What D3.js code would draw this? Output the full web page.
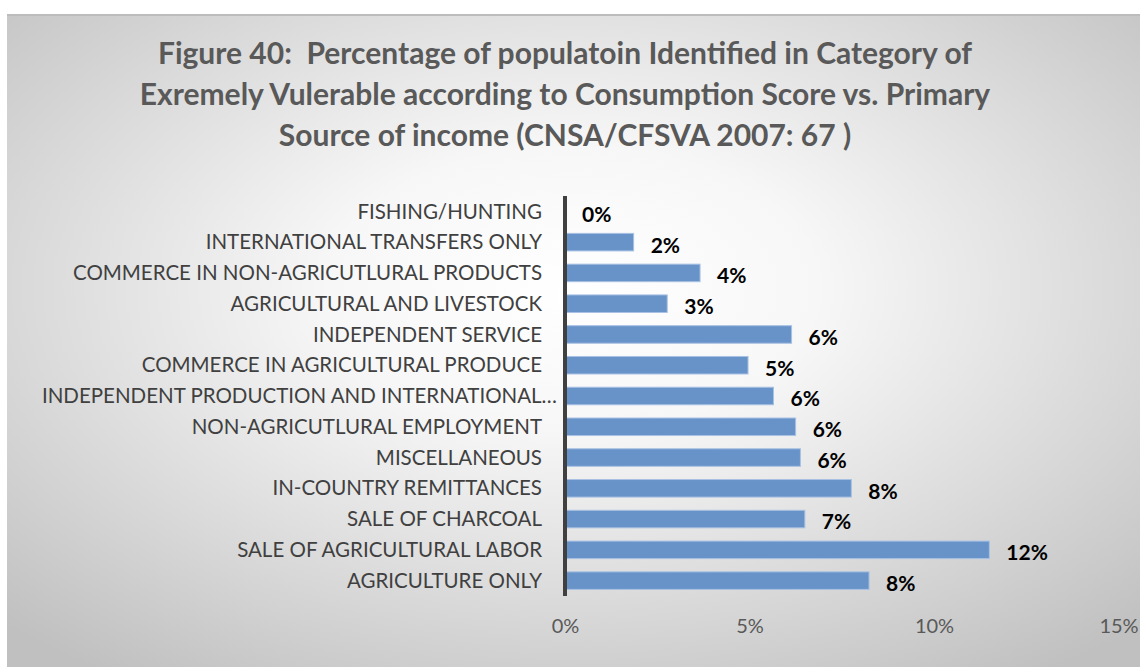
<!DOCTYPE html>
<html>
<head>
<meta charset="utf-8">
<script src="https://cdn.jsdelivr.net/npm/d3@7"></script>
<style>
  html, body { margin: 0; padding: 0; background: #ffffff; }
  svg { display: block; }
  text { font-family: Lato, "Open Sans", "DejaVu Sans", sans-serif; white-space: pre; }
</style>
</head>
<body>
<svg id="chart" width="1140" height="667"></svg>
<script>
// Primary source of income (top to bottom as displayed)
const categories = [
  "FISHING/HUNTING",
  "INTERNATIONAL TRANSFERS ONLY",
  "COMMERCE IN NON-AGRICUTLURAL PRODUCTS",
  "AGRICULTURAL AND LIVESTOCK",
  "INDEPENDENT SERVICE",
  "COMMERCE IN AGRICULTURAL PRODUCE",
  "INDEPENDENT PRODUCTION AND INTERNATIONAL…",
  "NON-AGRICUTLURAL EMPLOYMENT",
  "MISCELLANEOUS",
  "IN-COUNTRY REMITTANCES",
  "SALE OF CHARCOAL",
  "SALE OF AGRICULTURAL LABOR",
  "AGRICULTURE ONLY"
];

// Share of population classed as extremely vulnerable (%)
const percentages = [0, 1.86, 3.66, 2.77, 6.14, 4.96, 5.65, 6.25, 6.38, 7.76, 6.5, 11.5, 8.24];

const tickValues = [0, 5, 10, 15];

const titleLines = [
  "Figure 40:  Percentage of populatoin Identified in Category of",
  "Exremely Vulerable according to Consumption Score vs. Primary",
  "Source of income (CNSA/CFSVA 2007: 67 )"
];

const svg = d3.select("#chart");
const W = 1140, H = 667;

// Chart area background with a soft radial shading
const defs = svg.append("defs");
const grad = defs.append("radialGradient")
  .attr("id", "bg")
  .attr("cx", 0.5).attr("cy", 0.42).attr("r", 0.72)
  .attr("fx", 0.5).attr("fy", 0.42);
grad.append("stop").attr("offset", 0).attr("stop-color", "#ffffff");
grad.append("stop").attr("offset", 0.3).attr("stop-color", "#f7f7f7");
grad.append("stop").attr("offset", 1).attr("stop-color", "#c0c0c0");

svg.append("rect")
  .attr("x", 7).attr("y", 14)
  .attr("width", W - 7).attr("height", H - 14)
  .attr("fill", "url(#bg)");
svg.append("line")
  .attr("x1", 7).attr("x2", W)
  .attr("y1", 15).attr("y2", 15)
  .attr("stroke", "#bcbcbc").attr("stroke-width", 2);

// Title
svg.append("g")
  .selectAll("text")
  .data(titleLines)
  .join("text")
  .attr("x", 565)
  .attr("y", (d, i) => 64 + i * 41)
  .attr("text-anchor", "middle")
  .attr("font-size", 30)
  .attr("font-weight", "bold")
  .attr("fill", "#595959")
  .text(d => d);

// Scales
const x = d3.scaleLinear().domain([0, 15]).range([565, 1118.5]);
const y = d3.scaleBand().domain(categories).range([196, 596]).paddingInner(0.43).paddingOuter(0.215);

// Bars
svg.append("g")
  .selectAll("rect")
  .data(categories)
  .join("rect")
  .attr("x", x(0))
  .attr("y", d => y(d))
  .attr("width", (d, i) => x(percentages[i]) - x(0))
  .attr("height", y.bandwidth())
  .attr("fill", "#6793c9")
  .attr("stroke", "#a9c1e3")
  .attr("stroke-width", 1);

// Value labels
svg.append("g")
  .selectAll("text")
  .data(categories)
  .join("text")
  .attr("x", (d, i) => x(percentages[i]) + 17)
  .attr("y", d => y(d) + y.bandwidth() / 2 + 3)
  .attr("dy", "0.35em")
  .attr("font-size", 21)
  .attr("font-weight", "bold")
  .attr("fill", "#000000")
  .text((d, i) => Math.round(percentages[i]) + "%");

// Category labels
svg.append("g")
  .selectAll("text")
  .data(categories)
  .join("text")
  .attr("x", d => d.endsWith("…") ? 557 : 542)
  .attr("y", d => y(d) + y.bandwidth() / 2)
  .attr("dy", "0.35em")
  .attr("text-anchor", "end")
  .attr("font-size", 20.5)
  .attr("fill", "#404040")
  .text(d => d);

// Value axis tick labels
const xAxis = d3.axisBottom(x)
  .tickValues(tickValues)
  .tickSize(0)
  .tickPadding(0)
  .tickFormat(d => d + "%");
const gx = svg.append("g")
  .attr("transform", "translate(0,619)")
  .call(xAxis);
gx.select(".domain").remove();
gx.selectAll("text")
  .attr("font-size", 20)
  .attr("font-family", "Lato, 'Open Sans', sans-serif")
  .attr("fill", "#595959");

// Category axis line
svg.append("line")
  .attr("x1", x(0)).attr("x2", x(0))
  .attr("y1", 196).attr("y2", 596)
  .attr("stroke", "#404040")
  .attr("stroke-width", 4);
</script>
</body>
</html>
